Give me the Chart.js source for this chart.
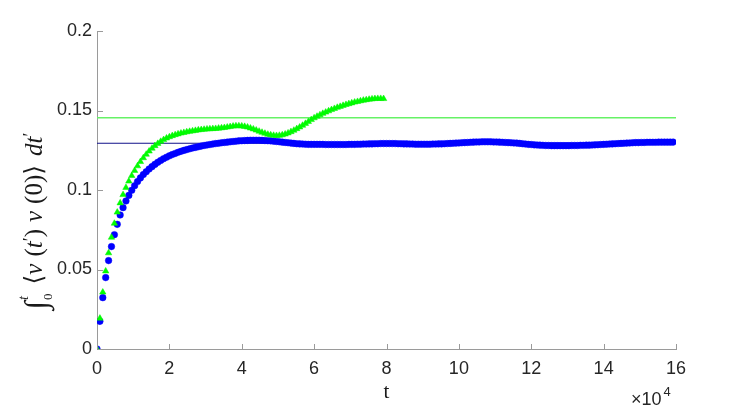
<!DOCTYPE html>
<html>
<head>
<meta charset="utf-8">
<script src="https://cdn.jsdelivr.net/npm/chart.js@4.4.1/dist/chart.umd.min.js"></script>
<style>
  body { margin: 0; background: #fff; }
  #wrap { width: 747px; height: 410px; }
</style>
</head>
<body>
<div id="wrap"><canvas id="chart" width="747" height="410"></canvas></div>
<script>
// sample spacing of both runs, in units of 10^4
const step = 0.08;

// blue circles, one value per sample
const blueVals = [
  0, 0.0174, 0.0323, 0.0449, 0.0556, 0.0644, 0.0719, 0.0784, 0.0843, 0.0889,
  0.0931, 0.0966, 0.0998, 0.1027, 0.1053, 0.1076, 0.1097, 0.1115, 0.1132, 0.1147,
  0.1161, 0.1174, 0.1186, 0.1197, 0.1206, 0.1215, 0.1223, 0.1230, 0.1237, 0.1243,
  0.1249, 0.1254, 0.1259, 0.1264, 0.1268, 0.1272, 0.1276, 0.1280, 0.1283, 0.1286,
  0.1289, 0.1292, 0.1294, 0.1297, 0.1299, 0.1301, 0.1303, 0.1305, 0.1307, 0.1309,
  0.1310, 0.1311, 0.1312, 0.1313, 0.1313, 0.1313, 0.1313, 0.1312, 0.1311, 0.1310,
  0.1309, 0.1307, 0.1305, 0.1303, 0.1301, 0.1299, 0.1297, 0.1295, 0.1293, 0.1291,
  0.1290, 0.1289, 0.1288, 0.1287, 0.1287, 0.1287, 0.1287, 0.1287, 0.1287, 0.1286,
  0.1286, 0.1286, 0.1286, 0.1286, 0.1286, 0.1286, 0.1286, 0.1287, 0.1287, 0.1287,
  0.1288, 0.1288, 0.1289, 0.1289, 0.1290, 0.1290, 0.1291, 0.1291, 0.1292, 0.1292,
  0.1292, 0.1292, 0.1292, 0.1292, 0.1291, 0.1291, 0.1290, 0.1290, 0.1289, 0.1289,
  0.1288, 0.1288, 0.1288, 0.1288, 0.1288, 0.1288, 0.1289, 0.1289, 0.1290, 0.1290,
  0.1291, 0.1292, 0.1293, 0.1294, 0.1295, 0.1296, 0.1297, 0.1298, 0.1299, 0.1300,
  0.1301, 0.1302, 0.1302, 0.1303, 0.1303, 0.1303, 0.1303, 0.1302, 0.1302, 0.1301,
  0.1300, 0.1299, 0.1298, 0.1297, 0.1296, 0.1295, 0.1293, 0.1291, 0.1289, 0.1287,
  0.1286, 0.1284, 0.1283, 0.1282, 0.1281, 0.1280, 0.1280, 0.1279, 0.1279, 0.1279,
  0.1279, 0.1279, 0.1279, 0.1279, 0.1280, 0.1280, 0.1280, 0.1281, 0.1281, 0.1282,
  0.1282, 0.1283, 0.1284, 0.1285, 0.1286, 0.1287, 0.1288, 0.1289, 0.1290, 0.1291,
  0.1292, 0.1293, 0.1294, 0.1295, 0.1296, 0.1297, 0.1298, 0.1298, 0.1299, 0.1299,
  0.1300, 0.1300, 0.1300, 0.1300, 0.1301, 0.1301, 0.1301, 0.1301, 0.1301, 0.1301
];

// green triangles
const greenVals = [
  0, 0.0193, 0.0357, 0.0490, 0.0604, 0.0702, 0.0790, 0.0860, 0.0918, 0.0970,
  0.1015, 0.1055, 0.1090, 0.1122, 0.1151, 0.1178, 0.1202, 0.1224, 0.1244, 0.1262,
  0.1278, 0.1292, 0.1305, 0.1316, 0.1326, 0.1334, 0.1341, 0.1347, 0.1352, 0.1357,
  0.1361, 0.1365, 0.1368, 0.1371, 0.1374, 0.1377, 0.1379, 0.1381, 0.1383, 0.1384,
  0.1385, 0.1386, 0.1388, 0.1390, 0.1392, 0.1395, 0.1398, 0.1401, 0.1403, 0.1403,
  0.1402, 0.1399, 0.1395, 0.1389, 0.1383, 0.1376, 0.1369, 0.1362, 0.1356, 0.1350,
  0.1346, 0.1343, 0.1342, 0.1343, 0.1346, 0.1351, 0.1358, 0.1366, 0.1375, 0.1385,
  0.1395, 0.1406, 0.1418, 0.1430, 0.1442, 0.1453, 0.1463, 0.1472, 0.1481, 0.1489,
  0.1497, 0.1505, 0.1512, 0.1519, 0.1525, 0.1531, 0.1537, 0.1542, 0.1547, 0.1552,
  0.1556, 0.1560, 0.1564, 0.1567, 0.1570, 0.1572, 0.1574, 0.1575, 0.1575, 0.1574
];

// horizontal reference levels
const blueLevel = 0.1294;
const greenLevel = 0.1455;

const xTicks = [0, 2, 4, 6, 8, 10, 12, 14, 16];
const yTicks = [0, 0.05, 0.1, 0.15, 0.2];

const bluePts = blueVals.map((v, i) => ({ x: i * step, y: v }));
const greenPts = greenVals.map((v, i) => ({ x: i * step, y: v }));

const textCol = "#262626";
const axisCol = "#9a9a9a";
const serif = '"Liberation Serif", "DejaVu Serif", serif';

// pieces of the y title: text, size, italic, baseline shift, gap after
const yTitleParts = [
  { t: "\u222b", s: 31, dy: 4, gap: 1 },
  { t: "0", s: 13, dy: 10, sub: true },
  { t: "t", s: 14, it: true, dy: -14, sup: true, gap: 9 },
  { t: "\u27e8", s: 25, dy: 0 },
  { t: "v", s: 25, it: true, dy: 0, gap: 7 },
  { t: "(", s: 25, dy: 0 },
  { t: "t", s: 25, it: true, dy: 0 },
  { t: "\u2032", s: 18, dy: -6 },
  { t: ")", s: 25, dy: 0, gap: 7 },
  { t: "v", s: 25, it: true, dy: 0, gap: 7 },
  { t: "(0)", s: 25, dy: 0 },
  { t: "\u27e9", s: 25, dy: 0, gap: 9 },
  { t: "dt", s: 25, it: true, dy: 0 },
  { t: "\u2032", s: 18, dy: -6 }
];

// inward ticks, axis titles and the x10^4 multiplier
const decor = {
  id: "decor",
  afterDraw(chart) {
    const ctx = chart.ctx;
    const xs = chart.scales.x, ys = chart.scales.y;
    const area = chart.chartArea;
    ctx.save();
    ctx.strokeStyle = axisCol;
    ctx.lineWidth = 1;
    xTicks.forEach(t => {
      const px = Math.round(xs.getPixelForValue(t)) + 0.5;
      ctx.beginPath();
      ctx.moveTo(px, area.bottom);
      ctx.lineTo(px, area.bottom - 5);
      ctx.stroke();
    });
    yTicks.forEach(t => {
      const py = Math.round(ys.getPixelForValue(t)) + 0.5;
      ctx.beginPath();
      ctx.moveTo(area.left, py);
      ctx.lineTo(area.left + 6, py);
      ctx.stroke();
    });

    // x title
    ctx.fillStyle = "#1a1a1a";
    ctx.font = "21px " + serif;
    ctx.textAlign = "center";
    ctx.textBaseline = "alphabetic";
    ctx.fillText("t", (area.left + area.right) / 2, 398);

    // multiplier
    ctx.fillStyle = textCol;
    ctx.textAlign = "left";
    ctx.font = '18px "Liberation Sans"';
    ctx.fillText("\u00d710", 631, 405);
    const w = ctx.measureText("\u00d710").width;
    ctx.font = '13px "Liberation Sans"';
    ctx.fillText("4", 631 + w + 2, 396);

    // y title, rotated
    const fontOf = p => (p.it ? "italic " : "") + p.s + "px " + serif;
    let total = 0, subW = 0;
    yTitleParts.forEach(p => {
      ctx.font = fontOf(p);
      p.w = ctx.measureText(p.t).width;
      if (p.sub) { subW = p.w; return; }
      if (p.sup) { total += Math.max(subW, p.w) + (p.gap || 0); return; }
      total += p.w + (p.gap || 0);
    });
    ctx.translate(42, 221);
    ctx.rotate(-Math.PI / 2);
    ctx.fillStyle = "#1a1a1a";
    let x = -total / 2;
    yTitleParts.forEach(p => {
      ctx.font = fontOf(p);
      ctx.fillText(p.t, x, p.dy);
      if (p.sub) { subW = p.w; return; }
      if (p.sup) { x += Math.max(subW, p.w) + (p.gap || 0); return; }
      x += p.w + (p.gap || 0);
    });
    ctx.restore();
  }
};

new Chart(document.getElementById("chart").getContext("2d"), {
  type: "scatter",
  data: {
    datasets: [
      {
        label: "green",
        data: greenPts,
        pointStyle: "triangle",
        pointRadius: 3.7,
        backgroundColor: "#00ff00",
        borderColor: "#00f000",
        borderWidth: 0.5,
        order: 1
      },
      {
        label: "blue",
        data: bluePts,
        pointStyle: "circle",
        pointRadius: 3.3,
        backgroundColor: "#0000ff",
        borderColor: "#0000ff",
        borderWidth: 0.5,
        order: 2
      },
      {
        type: "line",
        label: "green level",
        data: [{ x: 0, y: greenLevel }, { x: 16, y: greenLevel }],
        borderColor: "#66f266",
        borderWidth: 1.5,
        pointRadius: 0,
        order: 3
      },
      {
        type: "line",
        label: "blue level",
        data: [{ x: 0, y: blueLevel }, { x: 16, y: blueLevel }],
        borderColor: "#10108a",
        borderWidth: 1.2,
        pointRadius: 0,
        order: 4
      }
    ]
  },
  options: {
    responsive: false,
    animation: false,
    layout: { padding: { left: 0, right: 71, top: 31, bottom: 0 } },
    plugins: {
      legend: { display: false },
      tooltip: { enabled: false }
    },
    scales: {
      x: {
        type: "linear",
        min: 0,
        max: 16,
        afterBuildTicks: s => { s.ticks = xTicks.map(v => ({ value: v })); },
        afterFit: s => { s.height = 61; },
        grid: { display: false, drawTicks: false },
        border: { display: true, color: axisCol, width: 1 },
        ticks: {
          padding: 9,
          color: textCol,
          font: { family: "Liberation Sans", size: 18 },
          maxRotation: 0,
          callback: v => String(v)
        }
      },
      y: {
        type: "linear",
        min: 0,
        max: 0.2,
        afterBuildTicks: s => { s.ticks = yTicks.map(v => ({ value: v })); },
        afterFit: s => { s.width = 97; },
        grid: { display: false, drawTicks: false },
        border: { display: true, color: axisCol, width: 1 },
        ticks: {
          padding: 5,
          color: textCol,
          font: { family: "Liberation Sans", size: 18 },
          callback: v => String(Number(v.toFixed(2)))
        }
      }
    }
  },
  plugins: [decor]
});
</script>
</body>
</html>
